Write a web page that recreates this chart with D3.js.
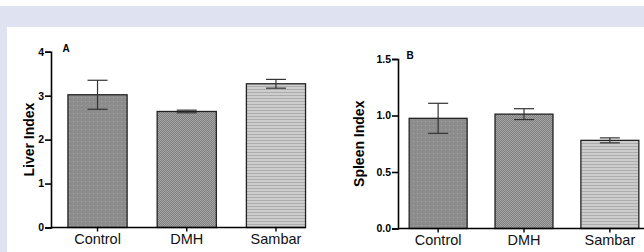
<!DOCTYPE html>
<html>
<head>
<meta charset="utf-8">
<script src="https://cdn.jsdelivr.net/npm/d3@7"></script>
<style>
  body { margin: 0; background: #fff; }
  text { font-family: "Liberation Sans", Arial, sans-serif; }
</style>
</head>
<body>
<svg id="chart"></svg>
<script>
// Data
var groups = ["Control", "DMH", "Sambar"];
var liverMean = [3.02, 2.64, 3.27];
var liverErr = [0.33, 0.03, 0.10];
var spleenMean = [0.975, 1.012, 0.78];
var spleenErr = [0.133, 0.048, 0.022];
var liverTicks = [0, 1, 2, 3, 4];
var spleenTicks = [0, 0.5, 1.0, 1.5];

var width = 644, height = 252;

var svg = d3.select("#chart")
    .attr("width", width)
    .attr("height", height);

// page background bands
svg.append("rect").attr("x", 0).attr("y", 6).attr("width", width).attr("height", 21).attr("fill", "#dfe2f0");
svg.append("rect").attr("x", 0).attr("y", 6).attr("width", 7).attr("height", height - 6).attr("fill", "#dfe2f0");

// fill patterns
var defs = svg.append("defs");

var p1 = defs.append("pattern").attr("id", "fillControl")
    .attr("patternUnits", "userSpaceOnUse").attr("width", 4).attr("height", 4);
p1.append("rect").attr("width", 4).attr("height", 4).attr("fill", "#8c8c8c");
p1.append("rect").attr("x", 1).attr("y", 1).attr("width", 1).attr("height", 1).attr("fill", "#a4a4a4");

var p2 = defs.append("pattern").attr("id", "fillDMH")
    .attr("patternUnits", "userSpaceOnUse").attr("width", 2).attr("height", 2);
p2.append("rect").attr("width", 2).attr("height", 2).attr("fill", "#7e7e7e");
p2.append("rect").attr("x", 0).attr("y", 0).attr("width", 1).attr("height", 1).attr("fill", "#a6a6a6");
p2.append("rect").attr("x", 1).attr("y", 1).attr("width", 1).attr("height", 1).attr("fill", "#a6a6a6");

var p3 = defs.append("pattern").attr("id", "fillSambar")
    .attr("patternUnits", "userSpaceOnUse").attr("width", 4).attr("height", 3);
p3.append("rect").attr("width", 4).attr("height", 3).attr("fill", "#cdcdcd");
p3.append("rect").attr("y", 2).attr("width", 4).attr("height", 1).attr("fill", "#adadad");

var fills = ["url(#fillControl)", "url(#fillDMH)", "url(#fillSambar)"];

function drawPanel(opts) {
  var g = svg.append("g");

  var x = d3.scaleBand()
      .domain(groups)
      .range([opts.x0, opts.x1])
      .paddingInner(opts.padIn)
      .paddingOuter(opts.padOut);

  var y = d3.scaleLinear()
      .domain(opts.domain)
      .range([opts.y0, opts.y1]);

  // bars
  g.selectAll(".bar")
      .data(groups)
    .enter().append("rect")
      .attr("class", "bar")
      .attr("x", function(d) { return x(d); })
      .attr("y", function(d, i) { return y(opts.mean[i]); })
      .attr("width", x.bandwidth())
      .attr("height", function(d, i) { return y(0) - y(opts.mean[i]); })
      .attr("fill", function(d, i) { return fills[i]; })
      .attr("stroke", "#222")
      .attr("stroke-width", 1.3);

  // error bars
  var eb = g.selectAll(".err")
      .data(groups)
    .enter().append("g")
      .attr("class", "err")
      .attr("stroke", "#333")
      .attr("stroke-width", 1.2);
  var cap = 10;
  eb.append("line")
      .attr("x1", function(d) { return x(d) + x.bandwidth() / 2; })
      .attr("x2", function(d) { return x(d) + x.bandwidth() / 2; })
      .attr("y1", function(d, i) { return y(opts.mean[i] - opts.err[i]); })
      .attr("y2", function(d, i) { return y(opts.mean[i] + opts.err[i]); });
  [-1, 1].forEach(function(s) {
    eb.append("line")
        .attr("x1", function(d) { return x(d) + x.bandwidth() / 2 - cap; })
        .attr("x2", function(d) { return x(d) + x.bandwidth() / 2 + cap; })
        .attr("y1", function(d, i) { return y(opts.mean[i] + s * opts.err[i]); })
        .attr("y2", function(d, i) { return y(opts.mean[i] + s * opts.err[i]); });
  });

  // y axis
  var yAxis = g.append("g")
      .attr("transform", "translate(" + opts.x0 + ",0)")
      .call(d3.axisLeft(y).tickValues(opts.ticks).tickFormat(d3.format(opts.fmt)).tickSizeOuter(0).tickSize(6).tickPadding(1));
  yAxis.select(".domain").attr("stroke", "#000").attr("stroke-width", 1.6);
  yAxis.selectAll(".tick line").attr("stroke", "#000").attr("stroke-width", 1.6);
  yAxis.selectAll(".tick text")
      .attr("font-size", 10.5).attr("font-weight", "bold").attr("fill", "#000")
      .attr("font-family", "Liberation Sans, Arial, sans-serif");

  // x axis
  var xAxis = g.append("g")
      .attr("transform", "translate(0," + opts.y0 + ")")
      .call(d3.axisBottom(x).tickSizeOuter(0).tickSize(4).tickPadding(2.5));
  xAxis.select(".domain").attr("stroke", "#000").attr("stroke-width", 1.6)
      .attr("d", "M" + opts.x0 + ",0H" + opts.xEnd);
  xAxis.selectAll(".tick line").attr("stroke", "#000").attr("stroke-width", 1.4);
  xAxis.selectAll(".tick text")
      .attr("font-size", 14.5).attr("fill", "#111")
      .attr("font-family", "Liberation Sans, Arial, sans-serif");

  // axis title
  g.append("text")
      .attr("transform", "translate(" + opts.labelX + "," + ((opts.y0 + opts.y1) / 2) + ") rotate(-90)")
      .attr("text-anchor", "middle")
      .attr("dy", "0.35em")
      .attr("font-size", 14)
      .attr("font-weight", "bold")
      .text(opts.title);

  // panel letter
  g.append("text")
      .attr("x", opts.letterX)
      .attr("y", opts.y1)
      .attr("font-size", 10)
      .attr("font-weight", "bold")
      .text(opts.letter);
}

drawPanel({
  x0: 51, x1: 322.5, xEnd: 306, y0: 227.5, y1: 51.7,
  padIn: 0.337, padOut: 0.19,
  domain: [0, 4], ticks: liverTicks, fmt: "d",
  mean: liverMean, err: liverErr,
  title: "Liver Index", labelX: 29, letter: "A", letterX: 62.5
});

drawPanel({
  x0: 398, x1: 650, xEnd: 644, y0: 228.5, y1: 59,
  padIn: 0.325, padOut: 0.13,
  domain: [0, 1.5], ticks: spleenTicks, fmt: ".1f",
  mean: spleenMean, err: spleenErr,
  title: "Spleen Index", labelX: 359, letter: "B", letterX: 406.5
});
</script>
</body>
</html>
